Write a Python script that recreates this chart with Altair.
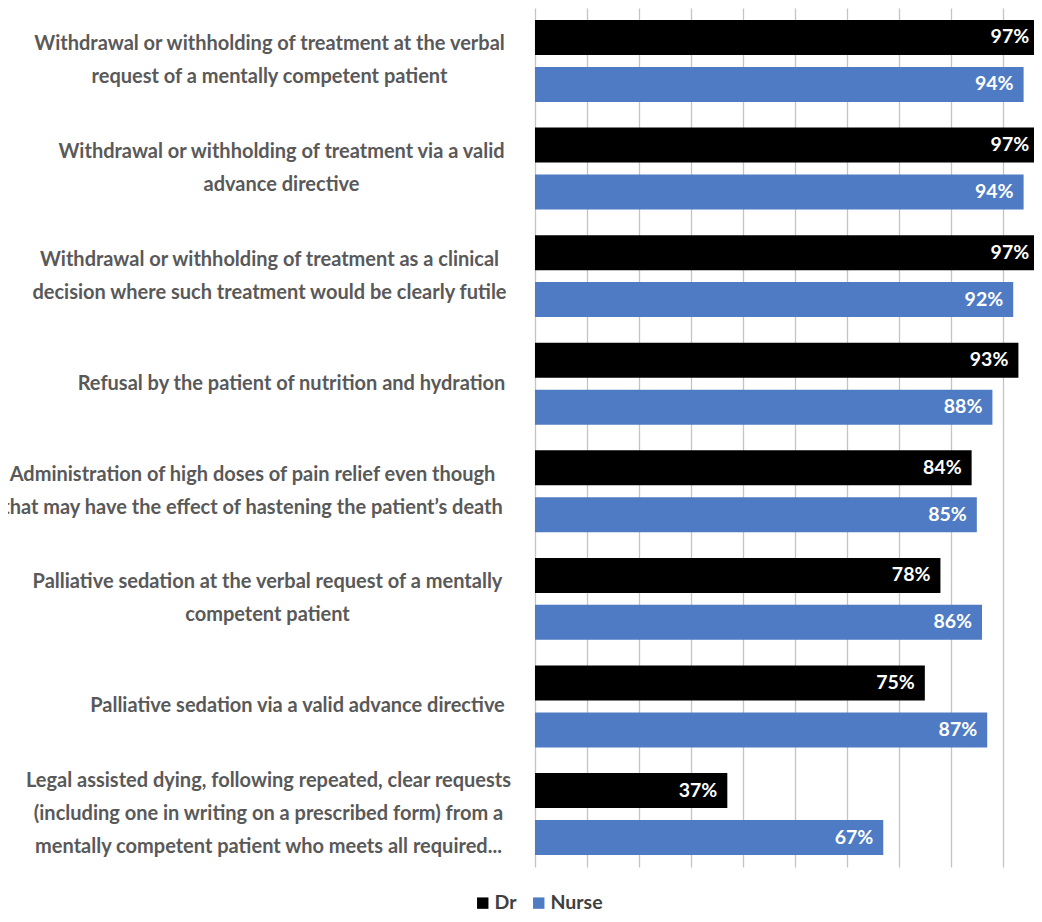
import json
import altair as alt
import pandas as pd

# ---- data ----
categories = [
    "Withdrawal or withholding of treatment at the verbal|request of a mentally competent patient",
    "Withdrawal or withholding of treatment via a valid|advance directive",
    "Withdrawal or withholding of treatment as a clinical|decision where such treatment would be clearly futile",
    "Refusal by the patient of nutrition and hydration",
    "Administration of high doses of pain relief even though|that may have the effect of hastening the patient’s death",
    "Palliative sedation at the verbal request of a mentally|competent patient",
    "Palliative sedation via a valid advance directive",
    "Legal assisted dying, following repeated, clear requests|(including one in writing on a prescribed form) from a|mentally competent patient who meets all required...",
]
dr_values = [97, 97, 97, 93, 84, 78, 75, 37]
nurse_values = [94, 94, 92, 88, 85, 86, 87, 67]
groups = ["Dr", "Nurse"]

# ---- styling ----
colors = ["#000000", "#4e7bc4"]
label_pad = [266, 254, 266, 244, 283, 268, 238, 267]  # distance from plot edge to label-block centre
FONT = "Lato, sans-serif"
LINE_H = 33

rows = []
for c, d, n in zip(categories, dr_values, nurse_values):
    rows.append({"item": c, "group": "Dr", "value": d})
    rows.append({"item": c, "group": "Nurse", "value": n})
df = pd.DataFrame(rows)

pad_expr = f"{json.dumps(label_pad)}[indexof({json.dumps(categories, ensure_ascii=False)}, datum.value)]"
offset_expr = f"-(length(split(datum.value, '|')) - 1) * {LINE_H} / 2"

base = alt.Chart(df).encode(
    y=alt.Y(
        "item:N",
        sort=categories,
        scale=alt.Scale(paddingInner=0.238, paddingOuter=0.1115),
        axis=alt.Axis(
            title=None,
            domain=False,
            ticks=False,
            tickSize=0,
            grid=False,
            labelExpr="split(datum.label, '|')",
            labelAlign="center",
            labelBaseline="middle",
            labelPadding=alt.ExprRef(expr=pad_expr),
            labelOffset=alt.ExprRef(expr=offset_expr),
            labelLimit=2000,
            labelFont=FONT,
            labelFontSize=20,
            labelFontWeight="bold",
            labelColor="#595959",
            labelLineHeight=LINE_H,
        ),
    ),
    yOffset=alt.YOffset(
        "group:N", sort=groups, scale=alt.Scale(paddingInner=0.255, paddingOuter=0)
    ),
)

bars = base.mark_bar().encode(
    x=alt.X(
        "value:Q",
        scale=alt.Scale(domain=[0, 96], nice=False, zero=True),
        axis=alt.Axis(
            title=None,
            values=list(range(0, 100, 10)),
            labels=False,
            ticks=False,
            domain=False,
            grid=True,
            gridColor="#c4c4c4",
            gridWidth=1.3,
        ),
    ),
    color=alt.Color(
        "group:N",
        scale=alt.Scale(domain=groups, range=colors),
        legend=alt.Legend(
            title=None,
            orient="none",
            legendX=-62,
            legendY=885,
            direction="horizontal",
            symbolType="square",
            symbolSize=130,
            symbolStrokeWidth=0,
            labelFont=FONT,
            labelFontSize=19.5,
            labelFontWeight="bold",
            labelColor="#404040",
            labelOffset=2,
            columnPadding=12,
        ),
    ),
)

text = base.mark_text(
    align="right",
    baseline="middle",
    dx=-10,
    color="white",
    font=FONT,
    fontSize=19.5,
    fontWeight="bold",
).encode(
    x=alt.X("value:Q"),
    text=alt.Text("lbl:N"),
).transform_calculate(lbl="datum.value + '%'")

chart = (
    alt.layer(bars, text)
    .properties(
        width=499,
        height=859,
        autosize=alt.AutoSizeParams(type="none"),
        padding={"left": 527, "top": 0, "right": 0, "bottom": 47},
    )
    .configure_view(stroke=None)
)

chart.save("out.html", embed_options={"renderer": "svg", "actions": False})
